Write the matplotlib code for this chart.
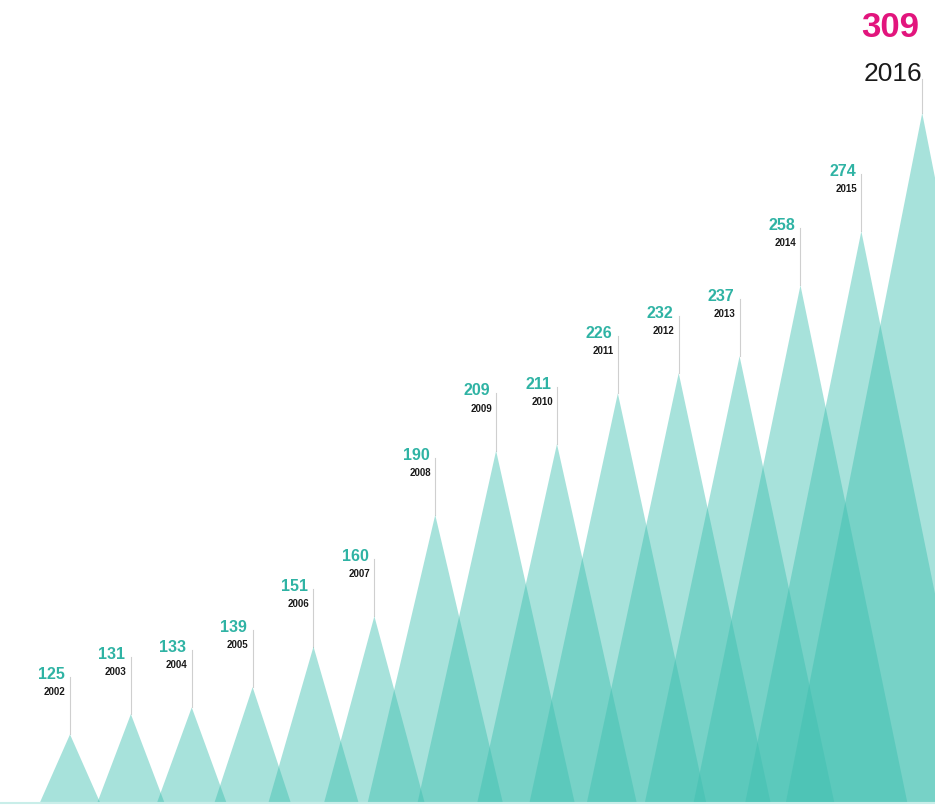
import matplotlib
matplotlib.use("Agg")
import matplotlib.pyplot as plt
from matplotlib.patches import Polygon

plt.rcParams["font.family"] = ["Liberation Sans", "DejaVu Sans"]

# Yearly totals
years = [2002, 2003, 2004, 2005, 2006, 2007, 2008, 2009,
         2010, 2011, 2012, 2013, 2014, 2015, 2016]
values = [125, 131, 133, 139, 151, 160, 190, 209,
          211, 226, 232, 237, 258, 274, 309]

BASE = 105            # value at which the peaks start
TEAL = "#3dbfb0"
VALUE_COLOR = "#2fb3a4"
HIGHLIGHT = "#e2157d"
LEADER = "#cfcfcf"
GAP = 11              # leader length, in data units
GAP_LAST = 8

fig = plt.figure(figsize=(9.41, 8.07), dpi=100)
ax = fig.add_axes([0, 0, 935 / 941, 1])
ax.set_xlim(2000.85, 2016.21)
ax.set_ylim(103.5, 342.5)
ax.axis("off")

for yr, v in zip(years, values):
    h = v - BASE
    hw = 0.3 + 0.0095 * h
    tri = Polygon([(yr - hw, BASE), (yr, v), (yr + hw, BASE)],
                  closed=True, facecolor=TEAL, alpha=0.45,
                  edgecolor="none", zorder=2)
    ax.add_patch(tri)

ax.plot([2000.85, 2016.21], [BASE - 0.3, BASE - 0.3], color="#c9eee9",
        lw=1.5, zorder=1, solid_capstyle="butt")

for i, (yr, v) in enumerate(zip(years, values)):
    last = i == len(years) - 1
    if not last:
        top = v + GAP
        ax.plot([yr, yr], [v, top + 6], color=LEADER, lw=0.8, zorder=1)
        ax.annotate(str(yr), xy=(yr, top), xytext=(-3, 0),
                    textcoords="offset points", ha="right", va="bottom",
                    fontsize=7, fontweight="bold", color="#1a1a1a")
        ax.annotate(str(v), xy=(yr, top), xytext=(-4, 11),
                    textcoords="offset points", ha="right", va="bottom",
                    fontsize=11.5, fontweight="bold", color=VALUE_COLOR)
    else:
        top = v + GAP_LAST
        ax.plot([yr, yr], [v, top + 2], color=LEADER, lw=0.8, zorder=1)
        ax.annotate(str(yr), xy=(yr, top), xytext=(0, 0),
                    textcoords="offset points", ha="right", va="bottom",
                    fontsize=19, color="#1a1a1a")
        ax.annotate(str(v), xy=(yr, top), xytext=(-2, 30),
                    textcoords="offset points", ha="right", va="bottom",
                    fontsize=25, fontweight="bold", color=HIGHLIGHT)

fig.savefig("out.png", dpi=100, facecolor="white")
